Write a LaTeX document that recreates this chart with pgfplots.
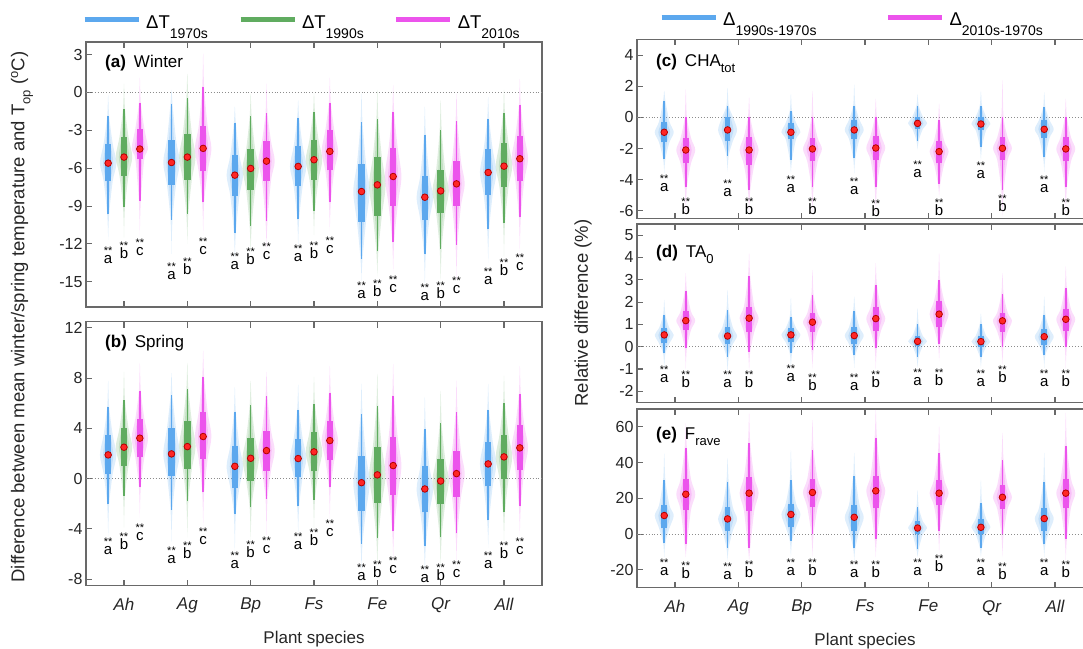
\documentclass[border=0pt]{standalone}
\usepackage{fontspec}
\setmainfont{Liberation Sans}
\usepackage{pgfplots}
\pgfplotsset{compat=1.18}

\definecolor{cblue}{RGB}{92,168,238}
\definecolor{cgreen}{RGB}{96,172,96}
\definecolor{cpink}{RGB}{236,84,236}
\definecolor{cframe}{RGB}{105,105,105}

% subscripts as in the original (gnuplot style, lowered a lot)
\newcommand{\lsub}[1]{\raisebox{-10pt}{\fontsize{14}{14}\selectfont #1}}
\newcommand{\psub}[1]{\raisebox{-6pt}{\fontsize{13}{13}\selectfont #1}}
% letter with two stars above it, one text box
\newcommand{\sigtext}[1]{\setbox0\hbox{\fontsize{15}{15}\selectfont #1}%
  \hbox to \wd0{\hss\raisebox{9pt}{\fontsize{11}{11}\selectfont **}\hss}\kern-\wd0\box0}

\tikzset{
  sigl/.style={inner sep=0pt, anchor=base, yshift=-4pt},
  ptitle/.style={font=\fontsize{17}{17}\selectfont, anchor=base west, inner sep=0pt},
}

% current series: colour and offset from the species position
\newcommand{\setv}[2]{\def\vc{#1}\def\voff{#2}}
\def\vw{0.13}
\def\vbw{6.5pt}

% violin: species, lower tail, lower whisker, q1, median, q3, upper whisker, upper tail
\newcommand{\vio}[8]{%
  \pgfmathsetmacro\vx{#1+\voff}%
  \pgfmathsetmacro\vA{\vx+\vw}\pgfmathsetmacro\vB{\vx-\vw}%
  \pgfmathsetmacro\vC{\vx+0.55*\vw}\pgfmathsetmacro\vD{\vx-0.55*\vw}%
  \pgfmathsetmacro\vE{\vx+0.12*\vw}\pgfmathsetmacro\vF{\vx-0.12*\vw}%
  \pgfmathsetmacro\vG{\vx+0.62*\vw}\pgfmathsetmacro\vH{\vx-0.62*\vw}%
  \pgfmathsetmacro\vI{\vx+0.3*\vw}\pgfmathsetmacro\vJ{\vx-0.3*\vw}%
  \edef\tmp{%
    \noexpand\addplot[forget plot, draw=none, fill=\vc, fill opacity=0.2, smooth, tension=0.5]
      coordinates {(\vx,#2) (\vE,#3) (\vC,#4) (\vA,#5) (\vC,#6) (\vE,#7) (\vx,#8) (\vF,#7) (\vD,#6) (\vB,#5) (\vD,#4) (\vF,#3) (\vx,#2)};
    \noexpand\addplot[forget plot, draw=none, fill=\vc, fill opacity=0.22, smooth, tension=0.5]
      coordinates {(\vx,#3) (\vI,#4) (\vG,#5) (\vI,#6) (\vx,#7) (\vJ,#6) (\vH,#5) (\vJ,#4) (\vx,#3)};
    \noexpand\addplot[forget plot, draw=\vc, line width=1.6pt] coordinates {(\vx,#3) (\vx,#7)};
    \noexpand\addplot[forget plot, draw=\vc, line width=\vbw] coordinates {(\vx,#4) (\vx,#6)};
    \noexpand\addplot[forget plot, only marks, mark=*, mark size=3.3pt,
      mark options={draw=red!70!black, fill=red!85!white, line width=0.8pt}] coordinates {(\vx,#5)};
  }\tmp}

% significance label: species, height of the letter, letter
\newcommand{\sig}[3]{%
  \pgfmathsetmacro\sx{#1+\voff}%
  \edef\tmp{\noexpand\node[sigl] at (axis cs:\sx,#2) {\noexpand\sigtext{#3}};}\tmp}

\newcommand{\zeroline}{\addplot[forget plot, black!45, dotted, line width=0.9pt] coordinates {(0.4,0) (7.6,0)};}

\pgfplotsset{
  panel/.style={
    scale only axis, width=456pt,
    xmin=0.4, xmax=7.6, xtick={1,2,3,4,5,6,7}, xticklabels={},
    tick align=inside, xtick pos=both, ytick pos=left,
    major tick length=6pt,
    axis line style={draw=cframe, line width=1.4pt},
    every tick/.style={cframe, line width=1.1pt},
    yticklabel style={font=\fontsize{16}{16}\selectfont, text=black!85},
    /pgf/number format/assume math mode=true,
  },
  species/.style={
    xticklabels={Ah,Ag,Bp,Fs,Fe,Qr,All},
    xticklabel style={font=\fontsize{17}{17}\selectfont\itshape, text=black!85, yshift=-9pt},
    xlabel={Plant species},
    xlabel style={font=\fontsize{17}{17}\selectfont, text=black!85, yshift=-11pt},
  },
  legend image code/.code={\draw[#1, line width=5pt] (0pt,3pt) -- (54pt,3pt);},
}

\begin{document}
\begin{tikzpicture}

% ---------------- (a) Winter ----------------
\begin{axis}[panel, at={(86pt,-307pt)}, anchor=south west, height=265pt,
  ymin=-17, ymax=4, ytick={-15,-12,-9,-6,-3,0,3},
  legend style={at={(rel axis cs:0,1)}, anchor=south west, xshift=-4pt, yshift=10pt, draw=none, fill=none,
    inner sep=0pt, legend columns=3, font=\fontsize{18.5}{20}\selectfont, legend cell align=left,
    /tikz/every even column/.append style={column sep=28pt},
    /tikz/every odd column/.append style={column sep=3pt}}]
\addlegendimage{cblue}\addlegendentry{ΔT\lsub{1970s}}
\addlegendimage{cgreen}\addlegendentry{ΔT\lsub{1990s}}
\addlegendimage{cpink}\addlegendentry{ΔT\lsub{2010s}}
\zeroline
\def\vw{0.13}\def\vbw{6.5pt}
\setv{cblue}{-0.25}
\vio{1}{-11.7}{-9.63}{-7.03}{-5.60}{-4.06}{-1.89}{-0.2}
\vio{2}{-12.8}{-10.08}{-7.32}{-5.55}{-3.74}{-0.88}{0.2}
\vio{3}{-13.3}{-11.1}{-8.2}{-6.55}{-4.99}{-2.42}{-1.1}
\vio{4}{-12.3}{-10.0}{-7.4}{-5.86}{-4.27}{-2.0}{-0.6}
\vio{5}{-14.9}{-13.2}{-10.24}{-7.85}{-5.65}{-2.34}{-0.1}
\vio{6}{-15.4}{-12.76}{-10.1}{-8.3}{-6.58}{-3.4}{-1.1}
\vio{7}{-13.5}{-10.85}{-8.09}{-6.34}{-4.51}{-2.12}{-0.35}
\sig{1}{-13.2}{a}\sig{2}{-14.54}{a}\sig{3}{-13.74}{a}\sig{4}{-13.1}{a}
\sig{5}{-16.04}{a}\sig{6}{-16.2}{a}\sig{7}{-14.88}{a}
\setv{cgreen}{0}
\vio{1}{-11.5}{-9.1}{-6.58}{-5.12}{-3.53}{-1.27}{0.7}
\vio{2}{-12.0}{-9.63}{-6.92}{-5.12}{-3.26}{-0.4}{1.5}
\vio{3}{-12.8}{-10.6}{-7.72}{-6.02}{-4.51}{-1.89}{-0.1}
\vio{4}{-11.3}{-9.36}{-6.92}{-5.33}{-3.74}{-1.54}{0}
\vio{5}{-14.6}{-12.6}{-9.76}{-7.32}{-5.12}{-2.07}{0.2}
\vio{6}{-15.1}{-12.4}{-9.55}{-7.8}{-6.13}{-2.95}{-0.6}
\vio{7}{-13.0}{-10.37}{-7.5}{-5.84}{-4.0}{-1.62}{0.2}
\sig{1}{-12.86}{b}\sig{2}{-14.14}{b}\sig{3}{-13.34}{b}\sig{4}{-12.81}{b}
\sig{5}{-15.86}{b}\sig{6}{-16.04}{b}\sig{7}{-14.2}{b}
\setv{cpink}{0.25}
\vio{1}{-11.3}{-8.57}{-5.25}{-4.48}{-2.87}{-0.82}{1.2}
\vio{2}{-11.3}{-8.7}{-6.26}{-4.43}{-2.68}{0.4}{3.1}
\vio{3}{-12.3}{-10.2}{-6.98}{-5.44}{-3.87}{-1.62}{0.7}
\vio{4}{-11.0}{-8.7}{-6.18}{-4.67}{-3.0}{-0.8}{1.2}
\vio{5}{-14.3}{-11.83}{-8.97}{-6.66}{-4.38}{-1.54}{0.6}
\vio{6}{-14.8}{-12.07}{-8.97}{-7.24}{-5.44}{-2.28}{-0.1}
\vio{7}{-12.8}{-9.9}{-6.98}{-5.25}{-3.45}{-1.0}{1.1}
\sig{1}{-12.6}{c}\sig{2}{-12.55}{c}\sig{3}{-12.94}{c}\sig{4}{-12.41}{c}
\sig{5}{-15.5}{c}\sig{6}{-15.59}{c}\sig{7}{-13.8}{c}
\node[ptitle, xshift=19pt, yshift=-25.5pt] at (rel axis cs:0,1) {\textbf{(a)}\hspace{8pt}Winter};
\end{axis}

% ---------------- (b) Spring ----------------
\begin{axis}[panel, species, at={(86pt,-585.5pt)}, anchor=south west, height=264pt,
  ymin=-8.5, ymax=12.5, ytick={-8,-4,0,4,8,12}]
\zeroline
\def\vw{0.13}\def\vbw{6.5pt}
\setv{cblue}{-0.25}
\vio{1}{-4.7}{-2.02}{0.37}{1.89}{3.49}{5.69}{7.8}
\vio{2}{-5.0}{-2.5}{0.24}{1.97}{4.0}{6.62}{8.4}
\vio{3}{-6.0}{-2.82}{-0.74}{0.98}{2.63}{5.29}{7.3}
\vio{4}{-4.5}{-2.2}{0.16}{1.6}{3.17}{5.5}{7.5}
\vio{5}{-7.3}{-5.16}{-2.55}{-0.32}{1.84}{5.16}{7.55}
\vio{6}{-7.5}{-5.35}{-2.69}{-0.82}{0.98}{3.96}{6.5}
\vio{7}{-5.5}{-3.3}{-0.61}{1.17}{2.95}{5.43}{7.55}
\sig{1}{-5.69}{a}\sig{2}{-6.41}{a}\sig{3}{-6.81}{a}\sig{4}{-5.35}{a}
\sig{5}{-7.8}{a}\sig{6}{-7.96}{a}\sig{7}{-6.81}{a}
\setv{cgreen}{0}
\vio{1}{-3.9}{-1.36}{1.04}{2.5}{4.0}{6.28}{8.5}
\vio{2}{-4.7}{-1.81}{0.77}{2.55}{4.55}{7.16}{9.2}
\vio{3}{-5.0}{-2.29}{-0.16}{1.62}{3.22}{5.83}{7.8}
\vio{4}{-4.0}{-1.7}{0.58}{2.13}{3.7}{5.96}{8.1}
\vio{5}{-7.0}{-4.76}{-1.94}{0.3}{2.5}{5.75}{8.35}
\vio{6}{-7.0}{-4.68}{-2.02}{-0.19}{1.57}{4.41}{7.0}
\vio{7}{-5.0}{-2.69}{-0.03}{1.73}{3.49}{6.0}{8.2}
\sig{1}{-5.29}{b}\sig{2}{-6.01}{b}\sig{3}{-5.96}{b}\sig{4}{-5.03}{b}
\sig{5}{-7.58}{b}\sig{6}{-7.8}{b}\sig{7}{-6.01}{b}
\setv{cpink}{0.25}
\vio{1}{-3.1}{-0.64}{1.7}{3.22}{4.76}{6.97}{9.2}
\vio{2}{-3.9}{-1.09}{1.57}{3.35}{5.29}{8.08}{10.2}
\vio{3}{-4.5}{-1.62}{0.64}{2.23}{3.83}{6.54}{8.5}
\vio{4}{-3.2}{-0.69}{1.49}{3.03}{4.55}{6.81}{9.0}
\vio{5}{-6.5}{-4.15}{-1.3}{1.04}{3.3}{6.54}{9.15}
\vio{6}{-6.5}{-4.36}{-1.44}{0.4}{2.18}{5.29}{7.8}
\vio{7}{-4.5}{-2.15}{0.69}{2.45}{4.23}{6.76}{9.0}
\sig{1}{-4.6}{c}\sig{2}{-4.95}{c}\sig{3}{-5.61}{c}\sig{4}{-4.28}{c}
\sig{5}{-7.21}{c}\sig{6}{-7.53}{c}\sig{7}{-5.69}{c}
\node[ptitle, xshift=19pt, yshift=-25.5pt] at (rel axis cs:0,1) {\textbf{(b)}\hspace{8pt}Spring};
\end{axis}

% ---------------- (c) CHA_tot ----------------
\begin{axis}[panel, at={(637pt,-218.5pt)}, anchor=south west, height=179pt,
  ymin=-6.5, ymax=5, ytick={-6,-4,-2,0,2,4},
  legend style={at={(rel axis cs:0,1)}, anchor=south west, xshift=22pt, yshift=10pt, draw=none, fill=none,
    inner sep=0pt, legend columns=2, font=\fontsize{18.5}{20}\selectfont, legend cell align=left,
    /tikz/every even column/.append style={column sep=67pt},
    /tikz/every odd column/.append style={column sep=3pt}}]
\addlegendimage{cblue}\addlegendentry{Δ\lsub{1990s-1970s}}
\addlegendimage{cpink}\addlegendentry{Δ\lsub{2010s-1970s}}
\zeroline
\def\vw{0.15}\def\vbw{5.5pt}
\setv{cblue}{-0.17}
\vio{1}{-3.6}{-2.67}{-1.6}{-0.96}{-0.28}{1.07}{1.7}
\vio{2}{-3.5}{-2.46}{-1.54}{-0.81}{0.04}{0.75}{1.9}
\vio{3}{-3.6}{-2.74}{-1.39}{-0.96}{-0.36}{0.43}{1.5}
\vio{4}{-3.6}{-2.61}{-1.39}{-0.81}{-0.15}{0.75}{2.1}
\vio{5}{-2.1}{-1.5}{-0.75}{-0.39}{0.04}{0.75}{1.5}
\vio{6}{-2.8}{-1.88}{-0.81}{-0.43}{0.04}{0.75}{1.7}
\vio{7}{-3.5}{-2.57}{-1.33}{-0.77}{-0.17}{0.64}{1.6}
\sig{1}{-4.5}{a}\sig{2}{-4.82}{a}\sig{3}{-4.6}{a}\sig{4}{-4.71}{a}
\sig{5}{-3.64}{a}\sig{6}{-3.7}{a}\sig{7}{-4.56}{a}
\setv{cpink}{0.17}
\vio{1}{-6.2}{-4.5}{-2.96}{-2.1}{-1.33}{0}{1.8}
\vio{2}{-6.2}{-4.7}{-3.04}{-2.1}{-1.24}{0.04}{1.3}
\vio{3}{-6.2}{-4.5}{-2.83}{-2.03}{-1.33}{0}{1.7}
\vio{4}{-6.2}{-4.5}{-2.74}{-1.97}{-1.18}{0}{1.2}
\vio{5}{-5.1}{-4.28}{-2.96}{-2.2}{-1.54}{-0.2}{0.9}
\vio{6}{-6.4}{-4.7}{-2.74}{-1.99}{-1.29}{0}{2.4}
\vio{7}{-6.2}{-4.5}{-2.83}{-2.03}{-1.29}{0}{1.2}
\sig{1}{-6.0}{b}\sig{2}{-6.0}{b}\sig{3}{-6.0}{b}\sig{4}{-6.1}{b}
\sig{5}{-6.05}{b}\sig{6}{-5.78}{b}\sig{7}{-6.05}{b}
\node[ptitle, xshift=19pt, yshift=-27pt] at (rel axis cs:0,1) {\textbf{(c)}\hspace{8pt}CHA\psub{tot}};
\end{axis}

% ---------------- (d) TA_0 ----------------
\begin{axis}[panel, at={(637pt,-402.5pt)}, anchor=south west, height=178.5pt,
  ymin=-2.5, ymax=5.5, ytick={-2,-1,0,1,2,3,4,5}]
\zeroline
\def\vw{0.15}\def\vbw{5.5pt}
\setv{cblue}{-0.17}
\vio{1}{-0.97}{-0.3}{0.15}{0.53}{0.83}{1.43}{2.1}
\vio{2}{-1.2}{-0.45}{0.12}{0.48}{0.87}{1.65}{2.55}
\vio{3}{-0.95}{-0.3}{0.2}{0.53}{0.83}{1.35}{2.2}
\vio{4}{-0.95}{-0.37}{0.12}{0.5}{0.87}{1.62}{2.25}
\vio{5}{-0.95}{-0.45}{0.03}{0.24}{0.48}{1.02}{1.73}
\vio{6}{-0.95}{-0.45}{0.0}{0.23}{0.48}{1.02}{1.5}
\vio{7}{-0.95}{-0.37}{0.08}{0.45}{0.8}{1.43}{2.25}
\sig{1}{-1.43}{a}\sig{2}{-1.65}{a}\sig{3}{-1.39}{a}\sig{4}{-1.8}{a}
\sig{5}{-1.55}{a}\sig{6}{-1.62}{a}\sig{7}{-1.62}{a}
\setv{cpink}{0.17}
\vio{1}{-1.0}{-0.07}{0.75}{1.17}{1.58}{2.48}{3.3}
\vio{2}{-1.1}{-0.23}{0.68}{1.28}{1.8}{3.15}{4.2}
\vio{3}{-1.0}{-0.15}{0.68}{1.1}{1.5}{2.33}{3.45}
\vio{4}{-1.0}{-0.07}{0.72}{1.26}{1.77}{2.78}{3.75}
\vio{5}{-0.65}{0.12}{0.87}{1.46}{2.03}{3.0}{4.2}
\vio{6}{-0.8}{0.0}{0.68}{1.16}{1.53}{2.37}{3.3}
\vio{7}{-1.0}{0.0}{0.71}{1.23}{1.68}{2.63}{3.6}
\sig{1}{-1.65}{b}\sig{2}{-1.65}{b}\sig{3}{-1.77}{b}\sig{4}{-1.65}{b}
\sig{5}{-1.55}{b}\sig{6}{-1.43}{b}\sig{7}{-1.62}{b}
\node[ptitle, xshift=19pt, yshift=-33pt] at (rel axis cs:0,1) {\textbf{(d)}\hspace{8pt}TA\psub{0}};
\end{axis}

% ---------------- (e) F_rave ----------------
\begin{axis}[panel, species, at={(637pt,-587.7pt)}, anchor=south west, height=178.7pt,
  ymin=-30, ymax=70, ytick={-20,0,20,40,60}]
\zeroline
\def\vw{0.15}\def\vbw{5.5pt}
\setv{cblue}{-0.17}
\vio{1}{-13}{-4.8}{3.4}{10.4}{16.1}{30.3}{45}
\vio{2}{-15}{-7.6}{1.9}{8.5}{15.1}{29.3}{42.6}
\vio{3}{-13}{-3.8}{3.8}{11}{17}{30.3}{47}
\vio{4}{-15}{-7.6}{1.9}{9.4}{16.5}{32.6}{45.5}
\vio{5}{-13}{-8.5}{0}{3.4}{7.2}{15.1}{24.6}
\vio{6}{-13}{-7.6}{0}{3.8}{8.5}{17.4}{30.3}
\vio{7}{-13}{-5.7}{1.9}{8.7}{14.6}{29.3}{45.5}
\sig{1}{-21.2}{a}\sig{2}{-23}{a}\sig{3}{-21.2}{a}\sig{4}{-21.8}{a}
\sig{5}{-21.2}{a}\sig{6}{-21}{a}\sig{7}{-21.2}{a}
\setv{cpink}{0.17}
\vio{1}{-13}{-5.7}{13.6}{22.3}{30.7}{48.3}{62}
\vio{2}{-15}{-7.6}{13.2}{22.9}{31.8}{51.1}{68}
\vio{3}{-13}{0}{15.1}{23.3}{30.8}{47.3}{64}
\vio{4}{-13}{-2.8}{14.6}{24.2}{32.6}{54}{70}
\vio{5}{-11.4}{1.9}{16.1}{22.9}{30.3}{45.5}{60.6}
\vio{6}{-13}{0}{14.2}{20.6}{27.4}{41.6}{56.8}
\vio{7}{-15}{-2.8}{14.8}{22.9}{30.8}{49.2}{68}
\sig{1}{-22.7}{b}\sig{2}{-22}{b}\sig{3}{-21.2}{b}\sig{4}{-21.8}{b}
\sig{5}{-18.6}{b}\sig{6}{-23.4}{b}\sig{7}{-22}{b}
\node[ptitle, xshift=19pt, yshift=-30pt] at (rel axis cs:0,1) {\textbf{(e)}\hspace{8pt}F\psub{rave}};
\end{axis}

\node[rotate=90, font=\fontsize{18.5}{19}\selectfont, text=black!85] at (22pt,-317pt)
  {Difference between mean winter/spring temperature and T\psub{op} (\textsuperscript{o}C)};
\node[rotate=90, font=\fontsize{18.5}{19}\selectfont, text=black!85] at (583pt,-313pt)
  {Relative difference (\%)};

\pgfresetboundingbox
\path[use as bounding box] (0pt,0pt) rectangle (1083pt,-648pt);
\end{tikzpicture}
\end{document}
